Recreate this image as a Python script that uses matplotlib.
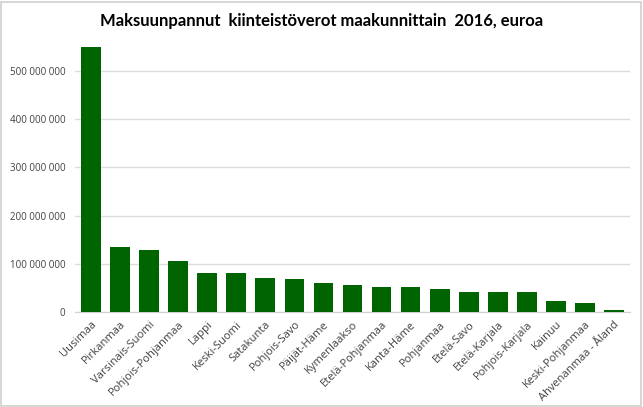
import matplotlib
matplotlib.use("Agg")
import matplotlib.pyplot as plt
from matplotlib.ticker import FuncFormatter
from matplotlib.patches import Rectangle

regions = ["Uusimaa", "Pirkanmaa", "Varsinais-Suomi", "Pohjois-Pohjanmaa", "Lappi",
           "Keski-Suomi", "Satakunta", "Pohjois-Savo", "Päijät-Häme", "Kymenlaakso",
           "Etelä-Pohjanmaa", "Kanta-Häme", "Pohjanmaa", "Etelä-Savo", "Etelä-Karjala",
           "Pohjois-Karjala", "Kainuu", "Keski-Pohjanmaa", "Ahvenanmaa - Åland"]
values = [550e6, 134e6, 128e6, 105e6, 81.5e6, 80e6, 70.5e6, 69e6, 60e6, 56.5e6,
          52.5e6, 51e6, 47.5e6, 42e6, 42e6, 40.5e6, 22.5e6, 19e6, 4.5e6]
yticks = [0, 100e6, 200e6, 300e6, 400e6, 500e6]

plt.rcParams['font.family'] = ['Open Sans', 'DejaVu Sans']
fig = plt.figure(figsize=(6.43, 4.07), dpi=100)
fig.patches.append(Rectangle((0.002, 0.003), 0.995, 0.993, transform=fig.transFigure,
                             fill=False, edgecolor='#d0d0d0', linewidth=1.2))
ax = fig.add_axes([75/643, 1-312/407, (630-75)/643, (312-42)/407])
x = range(len(regions))
ax.bar(x, values, width=0.68, color='#006400', zorder=3)
ax.set_xlim(-0.55, len(regions)-0.45)
ax.set_ylim(0, 560e6)
ax.set_yticks(yticks)
ax.yaxis.set_major_formatter(FuncFormatter(lambda v, p: f"{int(v):,}".replace(",", " ")))
ax.grid(axis='y', color='#dcdcdc', linewidth=1, zorder=0)
for s in ['top', 'right', 'left']:
    ax.spines[s].set_visible(False)
ax.spines['bottom'].set_color('#d0d0d0')
ax.tick_params(axis='y', length=0, labelsize=7, labelcolor='#404040', pad=7)
ax.tick_params(axis='x', length=0, labelsize=8, labelcolor='#404040', pad=5)
ax.set_xticks(list(x))
ax.set_xticklabels(regions, rotation=45, ha='right', rotation_mode='anchor')
fig.text(0.5, 0.948, "Maksuunpannut  kiinteistöverot maakunnittain  2016, euroa",
         ha='center', va='center', fontsize=12, fontweight='bold', color='black',
         family=['Lato', 'DejaVu Sans'])
fig.savefig("out.png", dpi=100)
